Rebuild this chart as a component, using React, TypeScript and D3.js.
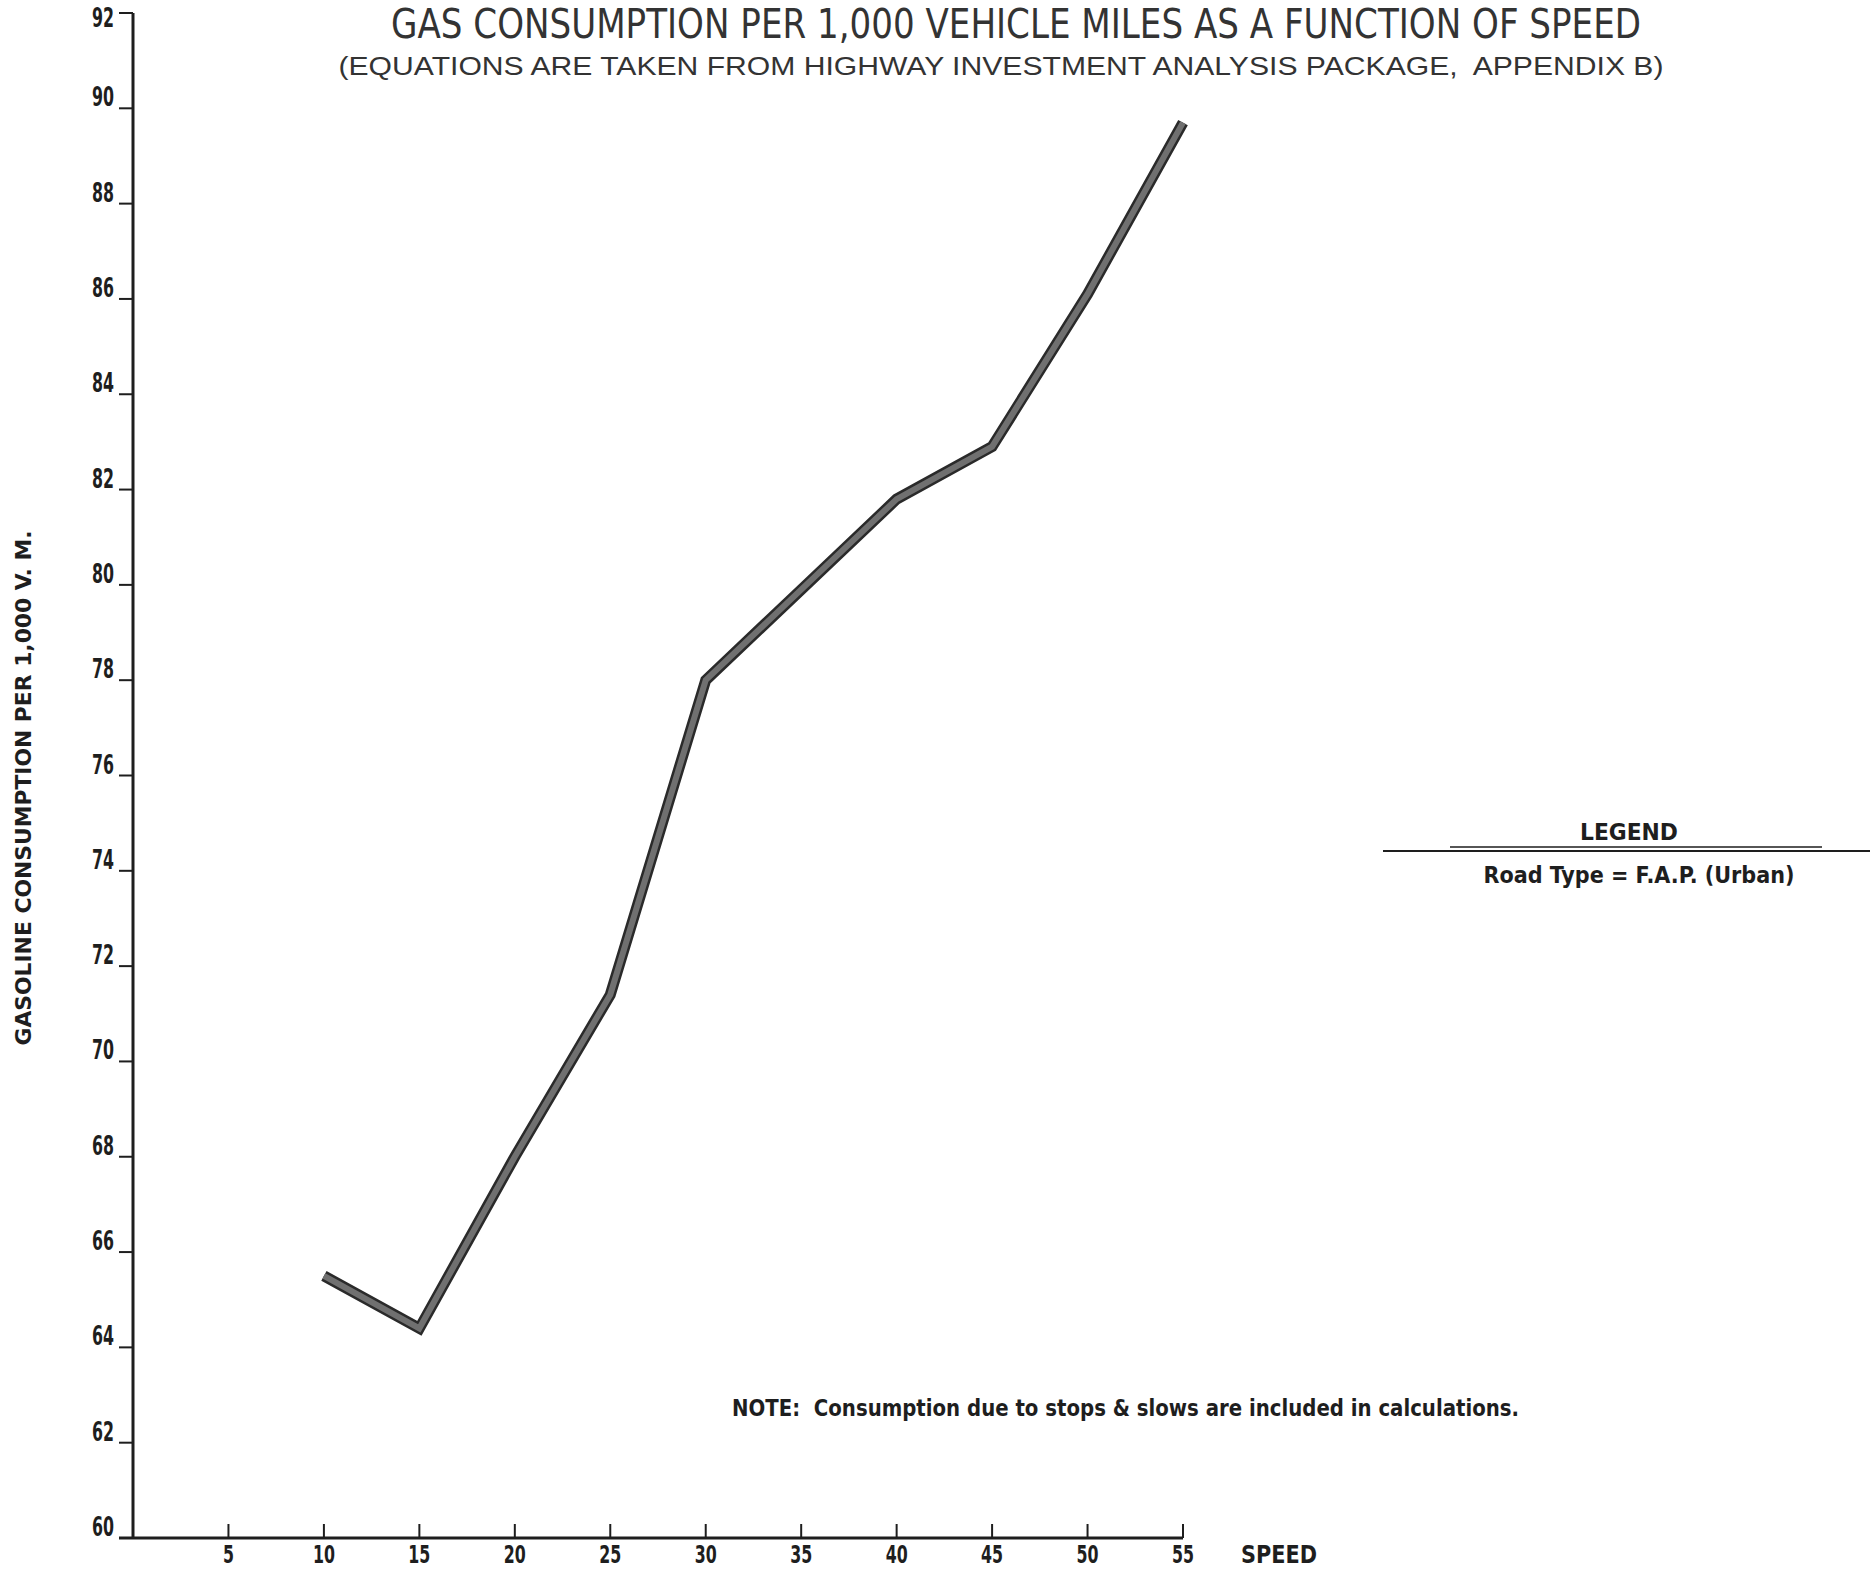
import React from "react";
import * as d3 from "d3";

// Speed (mph) and gasoline consumption per 1,000 vehicle miles
const speeds = [10, 15, 20, 25, 30, 35, 40, 45, 50, 55];
const consumption = [65.5, 64.4, 68.0, 71.4, 78.0, 79.9, 81.8, 82.9, 86.1, 89.7];

const xTicks = [5, 10, 15, 20, 25, 30, 35, 40, 45, 50, 55];
const yTicks = [60, 62, 64, 66, 68, 70, 72, 74, 76, 78, 80, 82, 84, 86, 88, 90, 92];

const titleText = "GAS CONSUMPTION PER 1,000 VEHICLE MILES AS A FUNCTION OF SPEED";
const subtitleText = "(EQUATIONS ARE TAKEN FROM HIGHWAY INVESTMENT ANALYSIS PACKAGE,  APPENDIX B)";
const yTitleText = "GASOLINE CONSUMPTION PER 1,000 V. M.";
const xTitleText = "SPEED";
const legendTitle = "LEGEND";
const legendItem = "Road Type = F.A.P. (Urban)";
const noteText = "NOTE:  Consumption due to stops & slows are included in calculations.";

const W = 1870;
const H = 1573;
const ink = "#1e1e1e";
const condensed = "'DejaVu Sans Condensed', 'Liberation Sans Narrow', 'DejaVu Sans', sans-serif";

// width of a numeric tick label drawn in the tall condensed face
const labelWidth = (t: number) => String(t).length * 11;

export default function App() {
  const x = d3.scaleLinear().domain([0, 55]).range([133, 1183]);
  const y = d3.scaleLinear().domain([60, 92]).range([1538, 13]);

  const line = d3
    .line<number>()
    .x((_, i) => x(speeds[i]))
    .y((d) => y(d))
    .curve(d3.curveLinear);

  const path = line(consumption) || "";

  return (
    <svg
      width={W}
      height={H}
      viewBox={`0 0 ${W} ${H}`}
      style={{ position: "absolute", left: 0, top: 0, background: "#fff" }}
    >
      <rect x={0} y={0} width={W} height={H} fill="#fff" />

      {/* titles */}
      <text
        x={1016}
        y={38}
        textAnchor="middle"
        fontFamily={condensed}
        fontSize={41}
        fill="#333"
        textLength={1250}
        lengthAdjust="spacingAndGlyphs"
      >
        {titleText}
      </text>
      <text
        x={1001}
        y={75}
        textAnchor="middle"
        fontFamily="'Liberation Sans', Arial, sans-serif"
        fontSize={26}
        fill="#333"
        textLength={1325}
        lengthAdjust="spacingAndGlyphs"
        style={{ whiteSpace: "pre" }}
      >
        {subtitleText}
      </text>

      {/* y axis */}
      <line x1={x(0)} x2={x(0)} y1={y(92)} y2={y(60) + 1} stroke={ink} strokeWidth={3} />
      {yTicks.map((t) => (
        <g key={`y${t}`}>
          <line x1={x(0) - 14} x2={x(0)} y1={y(t)} y2={y(t)} stroke={ink} strokeWidth={2} />
          <text
            x={x(0) - 19}
            y={Math.max(y(t) - 2, 27)}
            textAnchor="end"
            fontFamily={condensed}
            fontWeight="bold"
            fontSize={26}
            fill={ink}
            textLength={labelWidth(t)}
            lengthAdjust="spacingAndGlyphs"
          >
            {t}
          </text>
        </g>
      ))}
      <text
        transform={`translate(31, 788) rotate(-90)`}
        textAnchor="middle"
        fontFamily={condensed}
        fontWeight="bold"
        fontSize={22}
        fill={ink}
        textLength={515}
        lengthAdjust="spacingAndGlyphs"
      >
        {yTitleText}
      </text>

      {/* x axis */}
      <line x1={x(0) - 14} x2={x(55)} y1={y(60)} y2={y(60)} stroke={ink} strokeWidth={3} />
      {xTicks.map((t) => (
        <g key={`x${t}`}>
          <line x1={x(t)} x2={x(t)} y1={y(60)} y2={y(60) - 14} stroke={ink} strokeWidth={2} />
          <text
            x={x(t)}
            y={1563}
            textAnchor="middle"
            fontFamily={condensed}
            fontWeight="bold"
            fontSize={24}
            fill={ink}
            textLength={labelWidth(t)}
            lengthAdjust="spacingAndGlyphs"
          >
            {t}
          </text>
        </g>
      ))}
      <text
        x={1241}
        y={1563}
        fontFamily={condensed}
        fontWeight="bold"
        fontSize={24}
        fill={ink}
        textLength={76}
        lengthAdjust="spacingAndGlyphs"
      >
        {xTitleText}
      </text>

      {/* data line */}
      <path d={path} fill="none" stroke="#2a2a2a" strokeWidth={11} strokeLinejoin="miter" />
      <path d={path} fill="none" stroke="#707070" strokeWidth={6} strokeLinejoin="miter" />

      {/* legend */}
      <text
        x={1629}
        y={840}
        textAnchor="middle"
        fontFamily={condensed}
        fontWeight="bold"
        fontSize={23}
        fill={ink}
        textLength={98}
        lengthAdjust="spacingAndGlyphs"
      >
        {legendTitle}
      </text>
      <line x1={1450} x2={1822} y1={847} y2={847} stroke={ink} strokeWidth={1.5} />
      <line x1={1383} x2={1870} y1={851} y2={851} stroke={ink} strokeWidth={2} />
      <text
        x={1639}
        y={883}
        textAnchor="middle"
        fontFamily={condensed}
        fontWeight="bold"
        fontSize={23}
        fill={ink}
        textLength={311}
        lengthAdjust="spacingAndGlyphs"
      >
        {legendItem}
      </text>

      {/* note */}
      <text
        x={732}
        y={1416}
        fontFamily={condensed}
        fontWeight="bold"
        fontSize={23}
        fill={ink}
        textLength={787}
        lengthAdjust="spacingAndGlyphs"
        style={{ whiteSpace: "pre" }}
      >
        {noteText}
      </text>
    </svg>
  );
}
